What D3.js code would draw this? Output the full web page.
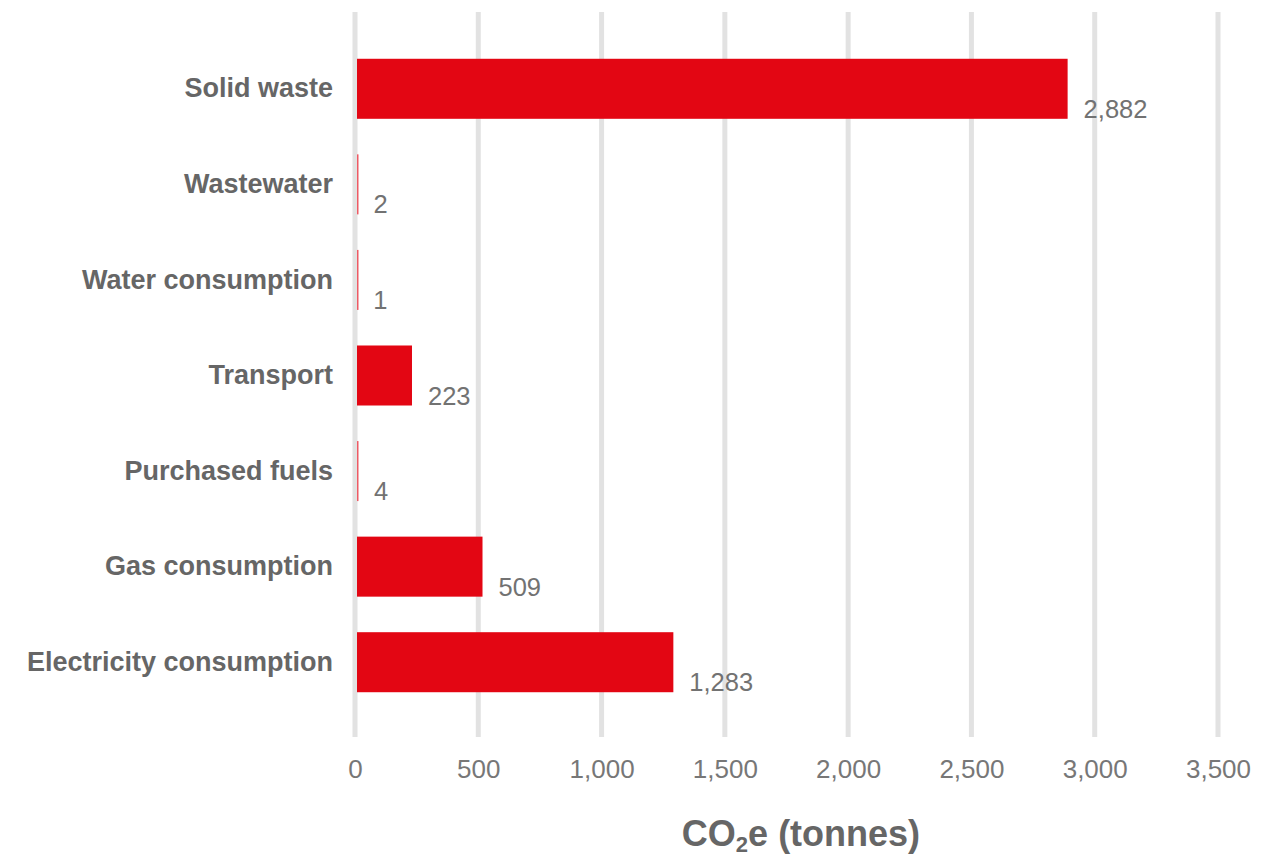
<!DOCTYPE html>
<html>
<head>
<meta charset="utf-8">
<script src="https://cdn.jsdelivr.net/npm/d3@7"></script>
<style>
  html, body { margin: 0; padding: 0; background: #fff; }
  svg { display: block; }
</style>
</head>
<body>
<svg id="chart" width="1281" height="856"></svg>
<script>
// Emission sources and their CO2e totals (tonnes)
const categories = [
  "Solid waste",
  "Wastewater",
  "Water consumption",
  "Transport",
  "Purchased fuels",
  "Gas consumption",
  "Electricity consumption"
];
const values = [2882, 2, 1, 223, 4, 509, 1283];
const tickValues = [0, 500, 1000, 1500, 2000, 2500, 3000, 3500];

const data = categories.map((c, i) => ({ category: c, value: values[i] }));

const svg = d3.select("#chart");
const fmt = d3.format(",");

const x = d3.scaleLinear().domain([0, 3500]).range([355, 1218]);
const y = d3.scaleBand().domain(categories).range([41, 710]).paddingInner(0.372).paddingOuter(0.186);

const gridTop = 12, gridBottom = 737;
const textGray = "#666666";
const font = "'Liberation Sans', Arial, Helvetica, sans-serif";

// vertical gridlines
svg.append("g")
  .selectAll("line")
  .data(tickValues)
  .join("line")
  .attr("x1", d => x(d)).attr("x2", d => x(d))
  .attr("y1", gridTop).attr("y2", gridBottom)
  .attr("stroke", "#e2e2e2")
  .attr("stroke-width", 5);

// x-axis tick labels
const xAxis = d3.axisBottom(x).tickValues(tickValues).tickFormat(fmt).tickSize(0).tickPadding(0);
const gx = svg.append("g").attr("transform", `translate(0, 778)`).call(xAxis);
gx.select(".domain").remove();
gx.selectAll("text")
  .attr("dy", 0)
  .attr("font-family", font)
  .attr("font-size", 26)
  .attr("fill", "#777777");

// bars
svg.append("g")
  .selectAll("rect")
  .data(data)
  .join("rect")
  .attr("x", x(0) + 2)
  .attr("y", d => y(d.category))
  .attr("width", d => Math.max(1.5, x(d.value) - x(0)))
  .attr("height", y.bandwidth())
  .attr("fill", d => d.value < 10 ? "#ee5a64" : "#e30613");

// value labels
svg.append("g")
  .selectAll("text")
  .data(data)
  .join("text")
  .attr("x", d => x(d.value) + 18)
  .attr("y", d => y(d.category) + y.bandwidth() - 1)
  .attr("font-family", font)
  .attr("font-size", 25.5)
  .attr("fill", "#727272")
  .text(d => fmt(d.value));

// category labels
const yAxis = d3.axisLeft(y).tickSize(0).tickPadding(0);
const gy = svg.append("g").attr("transform", `translate(333, 0)`).call(yAxis);
gy.select(".domain").remove();
gy.selectAll("text")
  .attr("dy", "0.32em")
  .attr("font-family", font)
  .attr("font-size", 27)
  .attr("font-weight", "bold")
  .attr("fill", textGray);

// axis title
const title = svg.append("text")
  .attr("x", 801)
  .attr("y", 846)
  .attr("text-anchor", "middle")
  .attr("font-family", font)
  .attr("font-size", 36)
  .attr("font-weight", "bold")
  .attr("fill", textGray);
title.append("tspan").text("CO");
title.append("tspan").attr("font-size", 22).attr("dy", 6).text("2");
title.append("tspan").attr("dy", -6).text("e (tonnes)");
</script>
</body>
</html>
